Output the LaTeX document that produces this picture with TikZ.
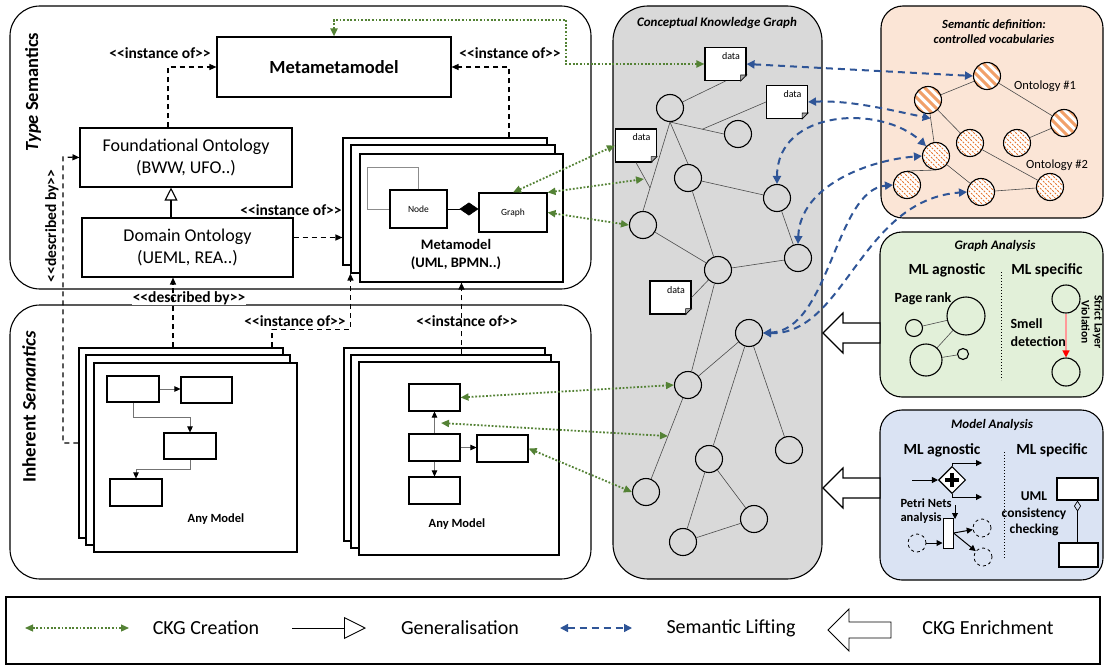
\documentclass[tikz,border=0pt]{standalone}
\usepackage{fontspec}
\setmainfont{Carlito}
\usetikzlibrary{arrows.meta,shapes.geometric}
\definecolor{ckgG}{RGB}{84,130,53}
\definecolor{liftB}{RGB}{47,85,151}
\definecolor{ckgFill}{RGB}{217,217,217}
\definecolor{ontFill}{RGB}{251,229,214}
\definecolor{gaFill}{RGB}{226,240,217}
\definecolor{maFill}{RGB}{218,227,243}
\definecolor{ontA}{RGB}{241,160,105}
\definecolor{ontB}{RGB}{230,120,50}
\newcommand\fsz[2]{\fontsize{#1}{#2}\selectfont}

\begin{document}
\begin{tikzpicture}[x=1pt,y=-1pt,
  box/.style={draw,fill=white,line width=1.1pt,inner sep=0pt},
  frm/.style={draw,line width=1.1pt,rounded corners=#1},frm/.default=30pt,
  dep/.style={line width=1.2pt,dash pattern=on 5pt off 4pt,-{Triangle[length=7pt,width=6pt]}},
  flw/.style={black!55,line width=0.7pt,-{Triangle[length=6pt,width=5.5pt,color=black]}},
  edg/.style={black!70,line width=0.6pt},
  ckg/.style={ckgG,line width=1.8pt,dash pattern=on 1.8pt off 1.8pt,{Triangle[length=8pt,width=7pt]}-{Triangle[length=8pt,width=7pt]}},
  lift/.style={liftB,line width=2pt,dash pattern=on 7pt off 5pt,{Triangle[length=8pt,width=8pt]}-{Triangle[length=8pt,width=8pt]}},
  kn/.style={circle,draw,line width=1.1pt,fill=ckgFill,minimum size=27pt,inner sep=0pt},
  doc/.style={draw,fill=white,line width=1.1pt,minimum width=41pt,minimum height=33pt,inner sep=3pt,text width=29pt,align=right,text height=9pt,text depth=18pt,font=\fsz{10}{12}},
  onA/.style={circle,draw,line width=1.1pt,fill=white,minimum size=27pt,inner sep=0pt,
    path picture={\foreach \k in {-36,-27,...,36} \draw[ontA,line width=3pt] ([xshift=\k pt]path picture bounding box.center) ++(-20pt,20pt) -- ++(40pt,-40pt);}},
  onB/.style={circle,draw,line width=1.1pt,fill=white,minimum size=27pt,inner sep=0pt,
    path picture={\foreach \k in {-36,-31,...,36} \draw[ontB,line width=1pt,dash pattern=on 2pt off 1.3pt] ([xshift=\k pt]path picture bounding box.center) ++(-20pt,20pt) -- ++(40pt,-40pt);}},
  pn/.style={line width=1pt,-{Triangle[length=6pt,width=6pt]}},
  lbl/.style={font=\fsz{15.5}{18}\bfseries},
  ml/.style={font=\fsz{15.5}{18}\bfseries},
  ttl/.style={font=\fsz{13}{15}\bfseries\itshape,align=center}]
\useasboundingbox (0,0) rectangle (1105,666);

\draw[frm] (10,6) rectangle (591,289);
\draw[frm] (10,305) rectangle (591,579);
\draw[frm=35pt,fill=ckgFill] (613,6) rectangle (822,579);
\draw[frm=22pt,fill=ontFill] (881,6) rectangle (1103,218);
\draw[frm=22pt,fill=gaFill] (880,232) rectangle (1103,397);
\draw[frm=22pt,fill=maFill] (880,410) rectangle (1103,580);
\draw[line width=1.1pt] (6,597) rectangle (1100,664);

\node[rotate=90,font=\fsz{18.5}{22}\bfseries] (tslbl) at (33,92) {\textit{Type} Semantics};
\node[rotate=90,font=\fsz{19}{22}\bfseries] (islbl) at (29,407) {Inherent \textit{Semantics}};

\node[box,minimum width=234pt,minimum height=60pt,font=\fsz{18.5}{22}\bfseries] (mmm) at (334,67) {Metametamodel};
\node[box,minimum width=212pt,minimum height=59pt,align=center,font=\fsz{18}{22}] (fo) at (186,157.5) {Foundational Ontology\\(BWW, UFO..)};
\node[box,minimum width=211pt,minimum height=59pt,align=center,font=\fsz{18}{22}] (do) at (187.5,247.5) {Domain Ontology\\(UEML, REA..)};

\node[box,minimum width=204pt,minimum height=127pt] (mmB) at (445,201.5) {};
\node[box,minimum width=204pt,minimum height=128pt] (mmM) at (453,209) {};
\node[box,minimum width=203pt,minimum height=128pt] (mmF) at (461.5,218) {};
\node[box,minimum width=57pt,minimum height=38pt,font=\fsz{9.5}{11}] (nd) at (418.5,209) {Node};
\node[box,minimum width=68pt,minimum height=39pt,font=\fsz{9.5}{11}] (gr) at (513,212.5) {Graph};
\draw[black!45,line width=0.8pt] (nd.north) |- (367,167) |- (nd.west);
\draw[line width=0.6pt,-{Diamond[length=19pt,width=13pt]}] (nd.east) -- (nd.east -| gr.west);
\node[font=\fsz{14.5}{18}\bfseries,align=center] (mmlbl) at (456,255) {Metamodel\\(UML, BPMN..)};

\node[lbl] (io1) at (160,53) {<{}<instance of>{}>};
\node[lbl] (io2) at (510,53) {<{}<instance of>{}>};
\node[lbl] (io3) at (291,210) {<{}<instance of>{}>};
\node[lbl] (io4) at (295,321) {<{}<instance of>{}>};
\node[lbl] (io5) at (467,321) {<{}<instance of>{}>};
\node[lbl,rotate=90] (db1) at (52,226) {<{}<described by>{}>};
\node[lbl,fill=white,inner sep=0.5pt] (db2) at (189,298) {<{}<described by>{}>};

\node[box,minimum width=204pt,minimum height=190pt] (lmB) at (181,443) {};
\node[box,minimum width=204pt,minimum height=190pt] (lmM) at (188,450) {};
\node[box,minimum width=203pt,minimum height=189pt] (lmF) at (195.5,457.5) {};
\node[box,minimum width=201pt,minimum height=193pt] (rmB) at (444.5,444.5) {};
\node[box,minimum width=200pt,minimum height=193pt] (rmM) at (451,451.5) {};
\node[box,minimum width=200pt,minimum height=193pt] (rmF) at (459,458.5) {};

\node[box,minimum width=52pt,minimum height=26pt] (ma) at (133,389) {};
\node[box,minimum width=51pt,minimum height=26pt] (mb) at (206.5,390) {};
\node[box,minimum width=52pt,minimum height=26pt] (mc) at (190,446) {};
\node[box,minimum width=52pt,minimum height=27pt] (md) at (136,492.5) {};
\draw[flw] (ma.east) -- (ma.east -| mb.west);
\draw[flw] (ma.south) -- ++(0,15) -| (mc.north);
\draw[flw] (mc.south) -- ++(0,10) -| (md.north);
\node[font=\fsz{12.5}{15}\bfseries] (aml1) at (216,519) {Any Model};

\node[box,minimum width=51pt,minimum height=27pt] (me) at (434.5,397.5) {};
\node[box,minimum width=51pt,minimum height=27pt] (mf) at (434.5,447.5) {};
\node[box,minimum width=51pt,minimum height=27pt] (mg) at (502.5,448.5) {};
\node[box,minimum width=51pt,minimum height=27pt] (mh) at (434.5,490.5) {};
\draw[flw] (mf.north) -- (me.south);
\draw[flw] (mf.east) -- (mf.east -| mg.west);
\draw[flw] (mf.south) -- (mh.north);
\node[font=\fsz{12.5}{15}\bfseries] (aml2) at (457,524) {Any Model};

\draw[dep] ([xshift=-18pt]fo.north) |- (mmm.west);
\draw[dep] ([xshift=64pt]mmB.north) |- (mmm.east);
\coordinate (doR) at ([yshift=10pt]do.east);
\draw[dep] (doR) -- (doR -| mmB.west);
\draw[dep] (lmB.west) -| (63,157) -- (fo.west);
\draw[dep] ([xshift=-8pt]lmB.north) -- ([xshift=-14.5pt]do.south);
\draw[dep] ([xshift=91pt]lmB.north) -- ++(0,-18) -| (mmM.south west);
\draw[dep] (mmF.south |- rmM.north) -- (mmF.south);
\draw[line width=1.1pt,-{Triangle[open,length=13pt,width=13pt]}] ([xshift=-16.5pt]do.north) -- ([xshift=-15pt]fo.south);

\node[ttl] (ckgt) at (717,23) {Conceptual Knowledge Graph};
\node[doc] (d1) at (725.5,64) {data};
\node[doc] (d2) at (787,102) {data};
\node[doc] (d3) at (636,145.5) {data};
\node[doc] (d4) at (670.5,297.5) {data};
\foreach \d in {d1,d2,d3,d4} {
  \fill[ckgFill] ([xshift=-6pt]\d.south east) -- ([shift={(0.8pt,-0.8pt)}]\d.south east) -- ([yshift=6pt]\d.south east) -- cycle;
  \filldraw[fill=black!35,line width=0.6pt] ([xshift=-6pt]\d.south east) -- ([yshift=6pt]\d.south east) -- ([shift={(-6pt,6pt)}]\d.south east) -- cycle;
}
\node[kn] (c1) at (670,108) {};
\node[kn] (c2) at (738,134) {};
\node[kn] (c3) at (688,178) {};
\node[kn] (c4) at (777,198) {};
\node[kn] (c5) at (643,225) {};
\node[kn] (c6) at (798,258) {};
\node[kn] (c7) at (718,270) {};
\node[kn] (c8) at (749,333) {};
\node[kn] (c9) at (688,385) {};
\node[kn] (c10) at (789,450) {};
\node[kn] (c11) at (709,459) {};
\node[kn] (c12) at (646,492) {};
\node[kn] (c13) at (754,519) {};
\node[kn] (c14) at (683,542) {};
\draw[edg] (c1.south) -- coordinate[pos=0.6] (j1) (c2.west);
\draw[edg] (c1.south) -- coordinate[pos=0.74] (j2) (c5.north);
\draw[edg] (c1.south) -- (c3.north);
\draw[edg] (d1.south) -- (c1);
\draw[edg] (d2.west) -- (j1);
\draw[edg] (d3.south) -- (j2);
\draw[edg] (c3) -- (c4);
\draw[edg] (c3) -- (c7);
\draw[edg] (c4) -- (c6);
\draw[edg] (c5) -- (c7);
\draw[edg] (c7) -- (c6);
\draw[edg] (d4.east) -- (c7);
\draw[edg] (c7) -- (c9);
\draw[edg] (c8) -- (c9);
\draw[edg] (c8) -- (c11);
\draw[edg] (c8) -- (c10);
\draw[edg] (c9) -- coordinate[pos=0.47] (k3) (c12);
\draw[edg] (c11) -- (c13);
\draw[edg] (c11) -- (c14);
\draw[edg] (c14) -- (c13);

\node[ttl,font=\fsz{12.5}{15}\bfseries\itshape] (ontt) at (994,32) {Semantic definition:\\controlled vocabularies};
\node[onA] (o1) at (987,76) {};
\node[onA] (o2) at (928,100) {};
\node[onA] (o3) at (1064,123) {};
\node[onB] (o4) at (970,143) {};
\node[onB] (o5) at (1017,143) {};
\node[onB] (o6) at (936,156) {};
\node[onB] (o7) at (907,185) {};
\node[onB] (o8) at (981,192) {};
\node[onB] (o9) at (1050,187) {};
\draw[edg] (o2) -- (o1);
\draw[edg] (o1) -- (o3);
\draw[edg] (o2) -- coordinate[pos=0.16] (k4) (o6);
\draw[edg] (o2) -- (o4);
\draw[edg] (o5) -- (o3);
\draw[edg] (o6.south) -- (o7.north);
\draw[edg] (o6) -- (o8);
\draw[edg] (o4) -- (o9);
\draw[edg] (o8) -- (o9);
\node[font=\fsz{12.5}{15}] (on1) at (1045,86) {Ontology \#1};
\node[font=\fsz{12.5}{15}] (on2) at (1057,165) {Ontology \#2};

\draw[ckg] (mmm.north) |- (566,20) |- (d1.west);
\draw[ckg] (gr.north) -- (d3.west);
\coordinate (k1) at (644,179);
\draw[ckg] (gr.north east) -- (k1);
\draw[ckg] (gr.east) -- (c5.west);
\draw[ckg] (me.east) -- (c9.west);
\coordinate (k2) at (441,423);
\draw[ckg] (k2) -- (k3);
\draw[ckg] (mg.east) -- (c12.west);

\draw[lift] (d1.east) -- (o1.west);
\draw[lift] (d2.east) .. controls (850,100) and (890,110) .. (k4);
\draw[lift] (c4.north) .. controls +(0,-75) and +(-45,-42) .. (o6.north west);
\draw[lift] (c6.north) .. controls (800,185) and (870,160) .. (o6.west);
\draw[lift] (c8.east) .. controls (830,330) and (835,190) .. (o7.west);
\draw[lift] (c8.east) .. controls (845,335) and (860,200) .. (o8.west);

\draw[line width=1.1pt,fill=white] (823,333) -- (843,313) -- (843,323) -- (880,323) -- (880,343) -- (843,343) -- (843,353) -- cycle;
\draw[line width=1.1pt,fill=white] (823,488) -- (843,468) -- (843,478) -- (880,478) -- (880,498) -- (843,498) -- (843,508) -- cycle;

\node[ttl] (gat) at (995,246) {Graph Analysis};
\node[ml] (ga1) at (947,270) {ML agnostic};
\node[ml] (ga2) at (1047,270) {ML specific};
\draw[line width=1pt,dotted] (1001,272) -- (1001,380);
\node[font=\fsz{14}{16}\bfseries] (prk) at (923,299) {Page rank};
\node[circle,draw,line width=1.1pt,minimum size=38pt,inner sep=0pt] (gb1) at (966,316) {};
\node[circle,draw,line width=1.1pt,minimum size=17pt,inner sep=0pt] (gs1) at (914,328) {};
\node[circle,draw,line width=1.1pt,minimum size=32pt,inner sep=0pt] (gb2) at (926,360) {};
\node[circle,draw,line width=1.1pt,minimum size=11pt,inner sep=0pt] (gs2) at (963,354) {};
\draw[edg] (gs1) -- (gb1);
\draw[edg] (gb1) -- (gb2);
\draw[edg] (gb2) -- (gs2);
\node[font=\fsz{14}{18}\bfseries,align=left,anchor=west] (smd) at (1007,333) {Smell\\detection};
\node[circle,draw,line width=1.1pt,minimum size=28pt,inner sep=0pt] (gt) at (1066,299) {};
\node[circle,draw,line width=1.1pt,minimum size=28pt,inner sep=0pt] (gbt) at (1066,372) {};
\draw[red!40,line width=1.3pt,-{Triangle[length=7pt,width=7pt,color=red]}] (gt) -- (gbt);
\node[rotate=-90,align=center,font=\fsz{11.5}{13}\bfseries,inner sep=0pt] (slv) at (1092,322) {Strict Layer\\Violation};

\node[ttl] (mat) at (992,425) {Model Analysis};
\node[ml] (ma1) at (942,450) {ML agnostic};
\node[ml] (ma2) at (1052,450) {ML specific};
\draw[line width=1pt,dotted] (1004,452) -- (1004,558);
\node[diamond,draw,line width=1.1pt,fill=white,minimum width=27pt,minimum height=27pt,inner sep=0pt] (gw) at (952,480) {};
\draw[line width=3.5pt] ([xshift=-7pt]gw.center) -- ([xshift=7pt]gw.center) ([yshift=-7pt]gw.center) -- ([yshift=7pt]gw.center);
\coordinate (gin) at (912,480);
\coordinate (gout1) at (982,463);
\coordinate (gout2) at (982,497);
\draw[pn] (gin) -- (gw.west);
\draw[pn] (gw.north) |- (gout1);
\draw[pn] (gw.south) |- (gout2);
\node[font=\fsz{12.5}{14}\bfseries,align=left,anchor=west] (pna) at (897,511) {Petri Nets\\analysis};
\coordinate (pdA) at (955,505);
\coordinate (pdB) at (955,519);
\draw[pn] (pdA) -- (pdB);
\node[draw,fill=white,line width=1pt,minimum width=10pt,minimum height=30pt,inner sep=0pt] (ptr) at (948,533) {};
\node[circle,draw,dashed,line width=0.8pt,minimum size=18pt,inner sep=0pt] (pl0) at (917,543) {};
\node[circle,draw,dashed,line width=0.8pt,minimum size=18pt,inner sep=0pt] (pl1) at (982,528) {};
\node[circle,draw,dashed,line width=0.8pt,minimum size=18pt,inner sep=0pt] (pl2) at (983,557) {};
\draw[pn] (pl0) -- (pl0 -| ptr.west);
\draw[pn] (ptr.east) -- (pl1);
\draw[pn] (ptr.east) -- (pl2);
\node[box,minimum width=41pt,minimum height=22pt] (u1) at (1077.5,489) {};
\node[box,minimum width=39pt,minimum height=24pt] (u2) at (1078.5,555) {};
\draw[line width=0.7pt,-{Diamond[open,length=11pt,width=7pt]}] (u2.north -| u1.south) -- (u1.south);
\node[font=\fsz{13.5}{16.5}\bfseries,align=center] (umc) at (1034,514) {UML\\consistency\\checking};

\coordinate (lg1a) at (25,628);
\coordinate (lg1b) at (129,628);
\draw[ckg,line width=1.2pt] (lg1a) -- (lg1b);
\node[font=\fsz{20}{24}] (lgt1) at (206,628) {CKG Creation};
\coordinate (lg2a) at (292,628);
\coordinate (lg2b) at (366,628);
\draw[line width=0.9pt,-{Triangle[open,length=22pt,width=22pt]}] (lg2a) -- (lg2b);
\node[font=\fsz{20}{24}] (lgt2) at (460,628) {Generalisation};
\coordinate (lg3a) at (560,628);
\coordinate (lg3b) at (632,628);
\draw[lift,line width=1.5pt] (lg3a) -- (lg3b);
\node[font=\fsz{20}{24}] (lgt3) at (731,628) {Semantic Lifting};
\draw[line width=0.9pt,fill=white] (828,630) -- (849,609) -- (849,622) -- (891,622) -- (891,638) -- (849,638) -- (849,651) -- cycle;
\node[font=\fsz{20}{24}] (lgt4) at (988,628) {CKG Enrichment};
\end{tikzpicture}
\end{document}
